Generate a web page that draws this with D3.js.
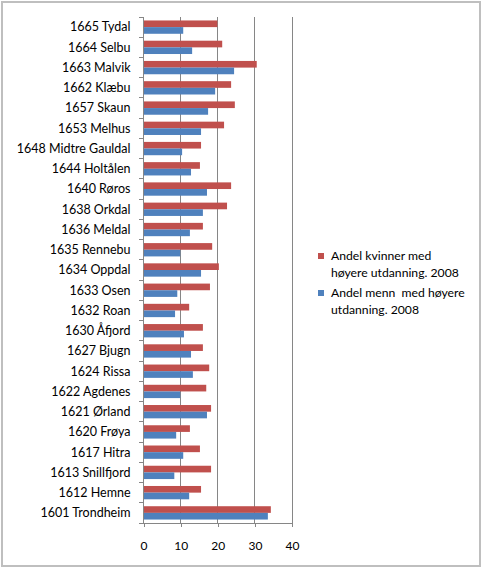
<!DOCTYPE html>
<html>
<head>
<meta charset="utf-8">
<script src="https://cdn.jsdelivr.net/npm/d3@7"></script>
<style>
  body { margin: 0; background: #fff; }
  svg text { font-family: Lato, "Open Sans", sans-serif; fill: #000; }
</style>
</head>
<body>
<div id="chart"></div>
<script>
const categories = [
  "1665 Tydal", "1664 Selbu", "1663 Malvik", "1662 Klæbu", "1657 Skaun",
  "1653 Melhus", "1648 Midtre Gauldal", "1644 Holtålen", "1640 Røros", "1638 Orkdal",
  "1636 Meldal", "1635 Rennebu", "1634 Oppdal", "1633 Osen", "1632 Roan",
  "1630 Åfjord", "1627 Bjugn", "1624 Rissa", "1622 Agdenes", "1621 Ørland",
  "1620 Frøya", "1617 Hitra", "1613 Snillfjord", "1612 Hemne", "1601 Trondheim"
];
const women = [19.9, 21.2, 30.5, 23.6, 24.6, 21.7, 15.5, 15.2, 23.6, 22.5,
  16.0, 18.5, 20.3, 17.9, 12.3, 16.0, 16.0, 17.7, 16.9, 18.2,
  12.5, 15.2, 18.2, 15.5, 34.3];
const men = [10.7, 13.1, 24.4, 19.3, 17.4, 15.5, 10.4, 12.8, 17.1, 16.0,
  12.5, 9.9, 15.5, 9.1, 8.5, 10.9, 12.8, 13.3, 9.9, 17.1,
  8.8, 10.7, 8.3, 12.3, 33.5];
const xTicks = [0, 10, 20, 30, 40];
const seriesNames = [
  ["Andel kvinner med", "høyere utdanning. 2008"],
  ["Andel menn  med høyere", "utdanning. 2008"]
];
const colors = ["#C0504D", "#4F81BD"];

const width = 484, height = 569;
const svg = d3.select("#chart").append("svg")
  .attr("width", width).attr("height", height);

// outer frame
svg.append("rect")
  .attr("x", 2).attr("y", 2).attr("width", 478).attr("height", 564)
  .attr("fill", "#fff").attr("stroke", "#bfbfbf").attr("stroke-width", 2);

const x = d3.scaleLinear().domain([0, 40]).range([143.5, 292]);
const y = d3.scaleBand().domain(categories).range([17, 523]);
const inner = d3.scaleBand().domain([0, 1]).range([0, y.bandwidth()]).paddingInner(0).paddingOuter(0.52);

// gridlines
svg.append("g").selectAll("line")
  .data(xTicks.slice(1))
  .join("line")
  .attr("x1", d => x(d)).attr("x2", d => x(d))
  .attr("y1", 17).attr("y2", 523)
  .attr("stroke", "#868686").attr("stroke-width", 1)
  .attr("shape-rendering", "crispEdges");

// bars
const rows = svg.append("g").selectAll("g")
  .data(categories)
  .join("g")
  .attr("transform", d => `translate(0,${y(d)})`);

[women, men].forEach((vals, s) => {
  rows.append("rect")
    .attr("x", x(0))
    .attr("y", inner(s))
    .attr("width", (d, i) => x(vals[i]) - x(0))
    .attr("height", inner.bandwidth())
    .attr("fill", colors[s]);
});

// y axis
const yAxis = svg.append("g")
  .attr("transform", `translate(${x(0)},0)`)
  .attr("shape-rendering", "crispEdges");
yAxis.append("line")
  .attr("x1", 0).attr("x2", 0).attr("y1", 17).attr("y2", 523)
  .attr("stroke", "#868686");
yAxis.selectAll(".tk")
  .data(d3.range(categories.length + 1))
  .join("line")
  .attr("class", "tk")
  .attr("x1", -5).attr("x2", 0)
  .attr("y1", i => 17 + i * y.step()).attr("y2", i => 17 + i * y.step())
  .attr("stroke", "#868686");
yAxis.selectAll("text")
  .data(categories)
  .join("text")
  .attr("x", -13)
  .attr("y", d => y(d) + y.bandwidth() / 2)
  .attr("dy", "0.35em")
  .attr("text-anchor", "end")
  .attr("font-size", 12.5)
  .text(d => d);

// x axis
const xAxis = svg.append("g")
  .attr("transform", "translate(0,523)")
  .call(d3.axisBottom(x).tickValues(xTicks).tickSize(4).tickPadding(14));
xAxis.select(".domain").attr("stroke", "#868686").attr("shape-rendering", "crispEdges");
xAxis.selectAll(".tick line").attr("stroke", "#868686").attr("shape-rendering", "crispEdges");
xAxis.selectAll(".tick text").attr("font-size", 12).attr("font-family", "Lato, 'Open Sans', sans-serif");

// legend
const legend = svg.append("g");
const legendY = [256, 293];
seriesNames.forEach((lines, s) => {
  legend.append("rect")
    .attr("x", 318).attr("y", legendY[s] - 3)
    .attr("width", 6).attr("height", 6)
    .attr("fill", colors[s]);
  lines.forEach((t, j) => {
    legend.append("text")
      .attr("x", 331).attr("y", legendY[s] + j * 17)
      .attr("dy", "0.35em")
      .attr("font-size", 12.2)
      .attr("xml:space", "preserve")
      .text(t);
  });
});
</script>
</body>
</html>
